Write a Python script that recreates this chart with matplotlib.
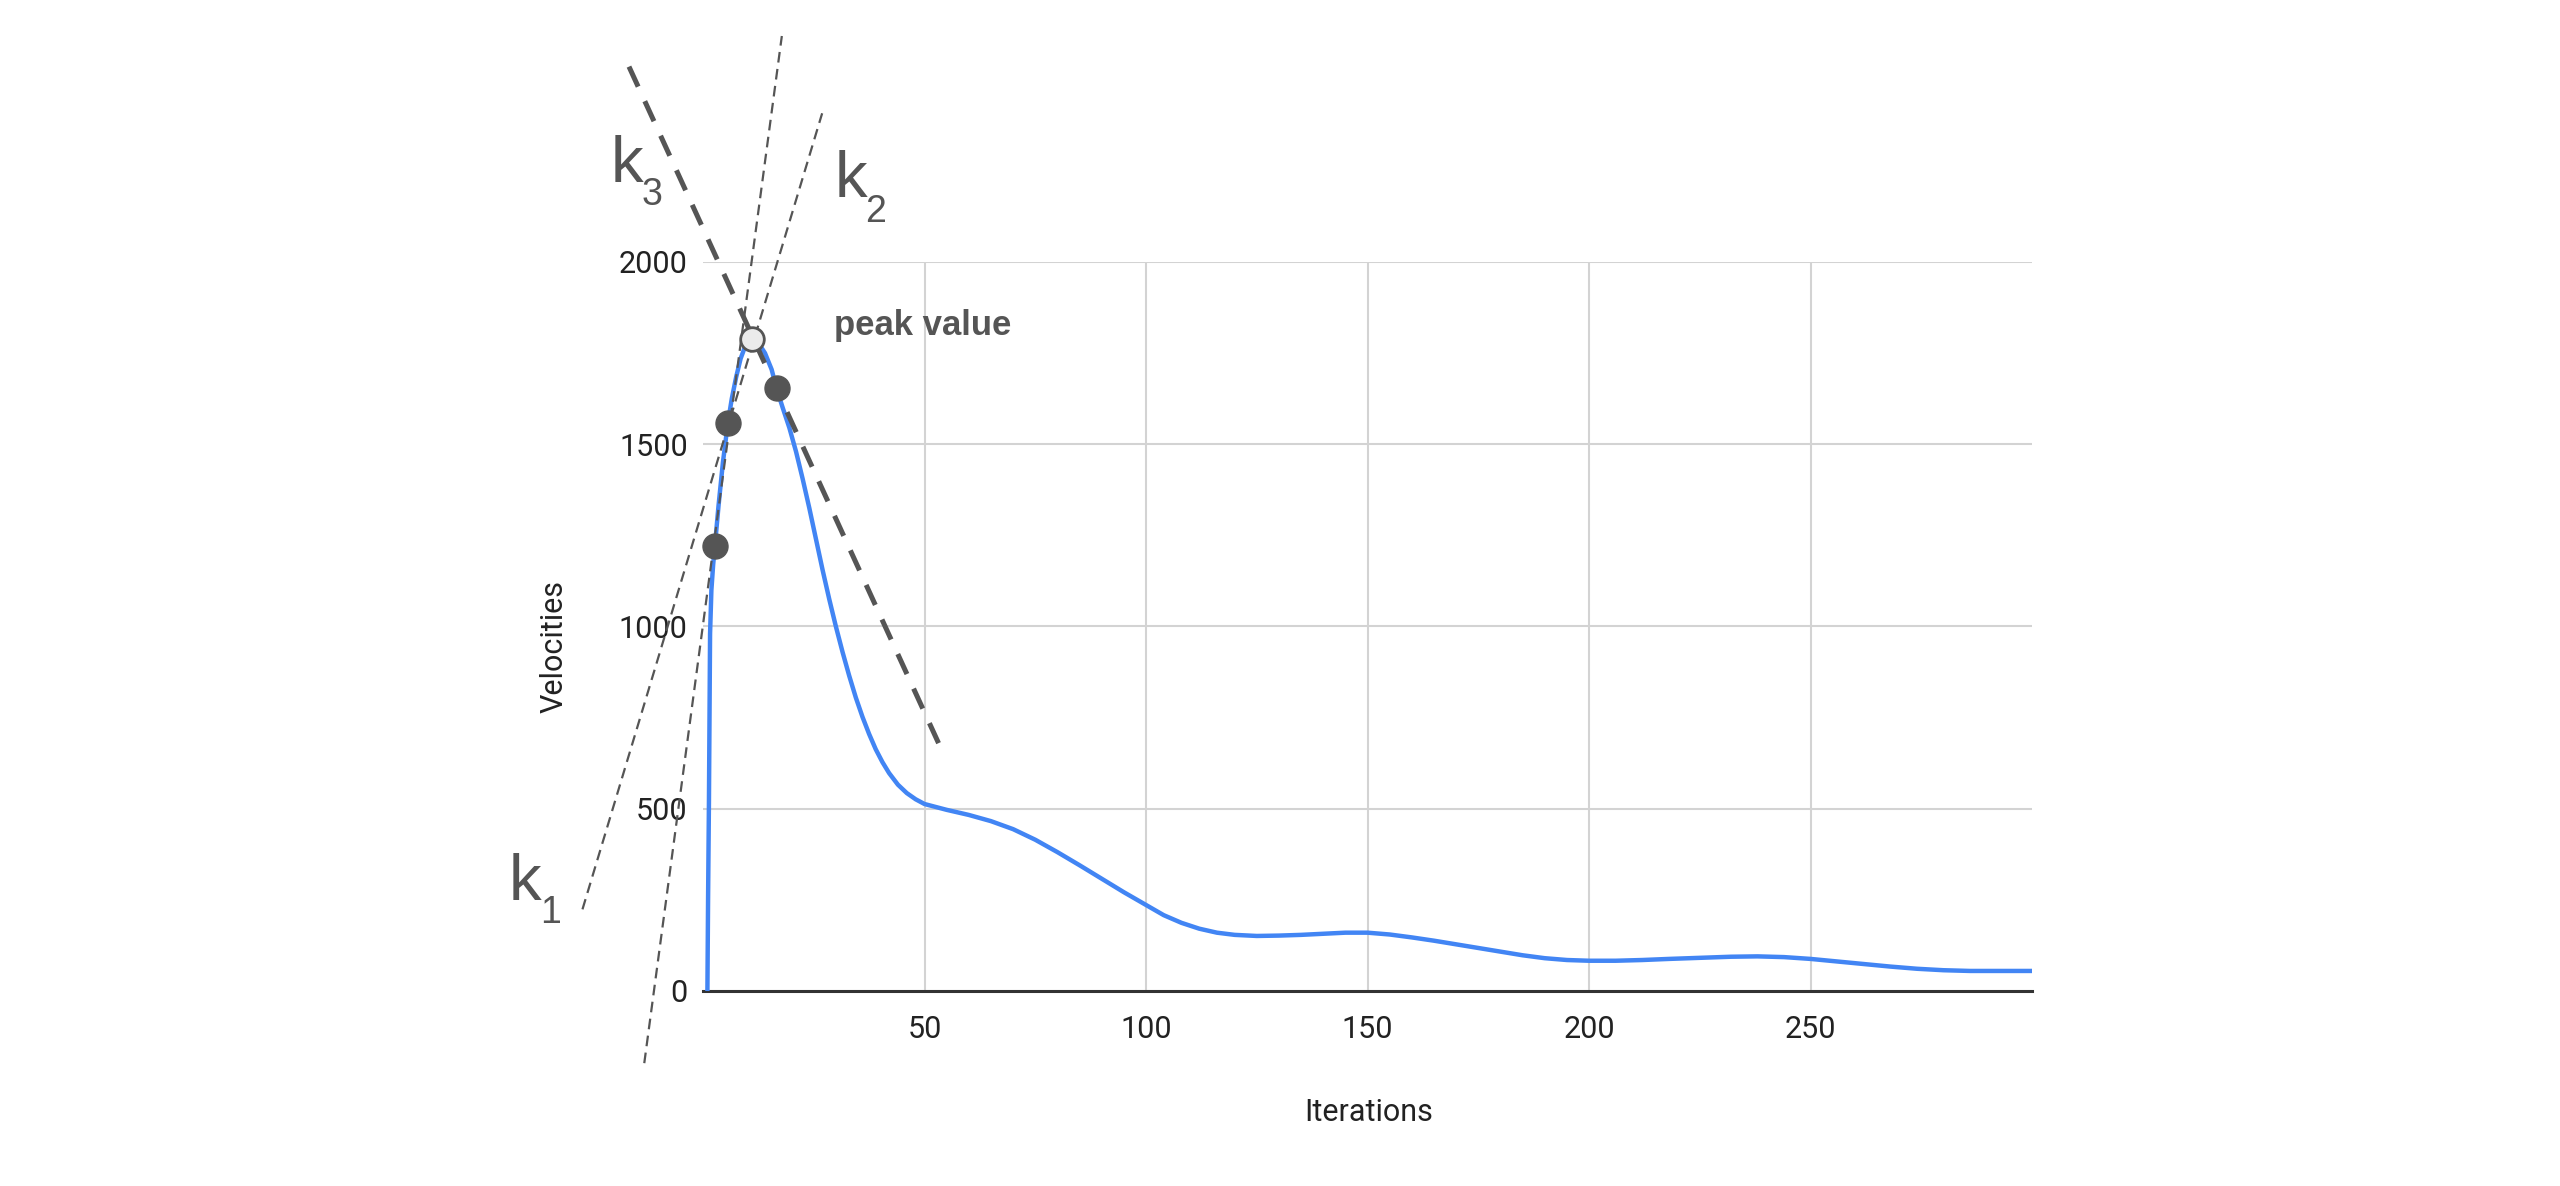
import matplotlib
matplotlib.use("Agg")
import matplotlib.pyplot as plt

# velocity curve
iterations = [1, 1.15, 1.35, 1.6, 1.9, 2.3, 2.7, 3.5, 4.5, 5.6, 6.5, 7.5, 8.5, 9.5, 10.3, 11.1,
              12.5, 14, 15.5, 16.6, 18, 19.5, 21, 22.5, 24, 25.5, 27, 28.5, 30, 31.5, 33,
              34.5, 36, 37.5, 39, 40.5, 42, 44, 46, 48, 50,
              55, 60, 65, 70, 75, 80, 85, 90, 95, 100, 104, 108, 112, 116, 120, 125,
              130, 135, 140, 145, 150, 155, 160, 165, 170, 175, 180, 185, 190, 195, 200,
              206, 212, 218, 225, 232, 238, 244, 250, 256, 262, 268, 274, 280, 286, 292, 300]
velocities = [0, 250, 524, 980, 1100, 1170, 1222, 1330, 1450, 1557, 1625, 1685, 1735, 1768, 1783, 1789,
              1778, 1750, 1705, 1653, 1600, 1545, 1480, 1405, 1325, 1240, 1155, 1075, 1000, 930, 865,
              805, 752, 705, 663, 628, 598, 566, 543, 526, 513,
              497, 483, 466, 444, 415, 381, 345, 308, 271, 236, 208, 187, 171, 160, 154, 151,
              152, 154, 157, 160, 160, 155, 147, 138, 128, 118, 108, 98, 90, 85, 83,
              83, 85, 88, 91, 94, 95, 93, 88, 81, 74, 67, 61, 57, 55, 55, 55]

# highlighted samples
sample_x = [2.7, 5.6, 16.6]
sample_y = [1222, 1557, 1653]
peak_x = [11.1]
peak_y = [1789]

# tangent line end points (x pair, y pair)
k1_line = ([-13.25, 17.8], [-198, 2620])
k2_line = ([-27.2, 26.9], [224, 2408])
k3_line = ([-16.7, 54.3], [2536, 650])

# labels: (text, subscript, x, y, sub_x, sub_y)
k_labels = [("k", "1", -43.9, 250, -36.8, 186),
            ("k", "2", 29.7, 2179, 36.5, 2111),
            ("k", "3", -20.8, 2220, -13.8, 2156)]
peak_label = ("peak value", 29.6, 1800)

x_ticks = [50, 100, 150, 200, 250]
y_ticks = [0, 500, 1000, 1500, 2000]

plt.rcParams['font.family'] = ['Roboto', 'DejaVu Sans']

fig = plt.figure(figsize=(25.6, 11.86), dpi=100)
ax = fig.add_axes([0.2746, 0.16442, 0.5192, 0.61467])

ax.plot(iterations, velocities, color='#4285f4', lw=3.2, zorder=3,
        solid_capstyle='round', solid_joinstyle='round')

gray = '#555555'
ax.plot(k1_line[0], k1_line[1], color=gray, lw=1.6, dashes=(4.8, 2.9), clip_on=False, zorder=4)
ax.plot(k2_line[0], k2_line[1], color=gray, lw=1.6, dashes=(4.8, 2.9), clip_on=False, zorder=4)
ax.plot(k3_line[0], k3_line[1], color=gray, lw=3.6, dashes=(4.4, 3.2), clip_on=False, zorder=4)

ax.plot(sample_x, sample_y, 'o', color=gray, ms=18, mec=gray, zorder=5, clip_on=False)
ax.plot(peak_x, peak_y, 'o', color='#ebebeb', ms=17, mec=gray, mew=2, zorder=6, clip_on=False)

for txt, sub, x, y, sx, sy in k_labels:
    ax.text(x, y, txt, fontsize=47, color=gray, family='Liberation Sans',
            ha='left', va='baseline', clip_on=False)
    ax.text(sx, sy, sub, fontsize=27, color=gray, family='Liberation Sans',
            ha='left', va='baseline', clip_on=False)

ax.text(peak_label[1], peak_label[2], peak_label[0], fontsize=25, fontweight='bold',
        color=gray, family='Liberation Sans', ha='left', va='baseline')

ax.set_xlim(0, 300)
ax.set_ylim(0, 2000)
ax.set_xticks(x_ticks)
ax.set_yticks(y_ticks)
ax.grid(True, color='#d3d3d3', lw=1.5)
ax.set_axisbelow(True)
for side in ['left', 'right', 'top']:
    ax.spines[side].set_visible(False)
ax.spines['bottom'].set_color('#333333')
ax.spines['bottom'].set_linewidth(2.2)
ax.spines['bottom'].set_zorder(2.5)

ax.tick_params(axis='both', length=0, labelsize=22, labelcolor='#222222')
ax.tick_params(axis='y', pad=11)
ax.tick_params(axis='x', pad=17)

ax.set_xlabel("Iterations", fontsize=22, color='#222222', va='center')
ax.xaxis.set_label_coords(0.501, -0.166)
ax.set_ylabel("Velocities", fontsize=22, color='#222222', va='center')
ax.yaxis.set_label_coords(-0.112, 0.472)

fig.savefig("out.png", dpi=100)
plt.close(fig)
